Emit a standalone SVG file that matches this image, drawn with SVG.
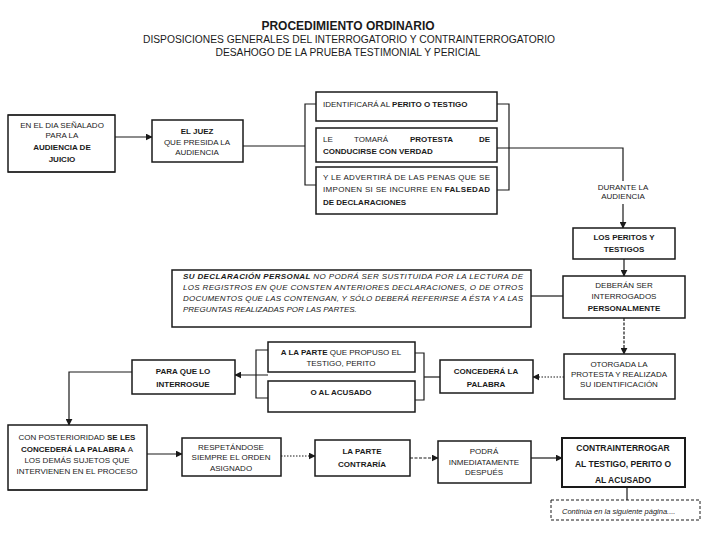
<svg xmlns="http://www.w3.org/2000/svg" width="720" height="540" viewBox="0 0 720 540">
<style>
text{font-family:"Liberation Sans",Arial,sans-serif;fill:#1a1a1a;font-size:8px}
.c{text-anchor:middle}
.b{font-weight:bold}
.i{font-style:italic}
.box{fill:#fff;stroke:#1a1a1a;stroke-width:1.5}
.thick{stroke-width:2}
.ln{fill:none;stroke:#1a1a1a;stroke-width:1.2}
.dash{stroke-dasharray:3 1.5}
.dot{stroke-dasharray:1.5 1.5}
</style>
<defs>
<marker id="ah" viewBox="0 0 10 10" refX="9" refY="5" markerWidth="7" markerHeight="7" orient="auto" markerUnits="userSpaceOnUse">
<path d="M0,0 L10,5 L0,10 z" fill="#1a1a1a"/>
</marker>
</defs>
<rect width="720" height="540" fill="#fff"/>

<g id="title">
<text x="348" y="30" class="c b" style="font-size:12px">PROCEDIMIENTO ORDINARIO</text>
<text x="349" y="43" class="c" style="font-size:10px" textLength="412" lengthAdjust="spacingAndGlyphs">DISPOSICIONES GENERALES DEL INTERROGATORIO Y CONTRAINTERROGATORIO</text>
<text x="348" y="56" class="c" style="font-size:10px" textLength="265" lengthAdjust="spacingAndGlyphs">DESAHOGO DE LA PRUEBA TESTIMONIAL Y PERICIAL</text>
</g>

<g id="connectors">
<line class="ln" x1="115" y1="137" x2="152" y2="137" marker-end="url(#ah)"/>
<polyline class="ln" points="243,146 305,146"/>
<polyline class="ln" points="316,104 305,104 305,185 316,185"/>
<polyline class="ln" points="497,104 509,104 509,190 497,190"/>
<polyline class="ln" points="497,148 623,148 623,181"/>
<line class="ln" x1="623" y1="204" x2="623" y2="228" marker-end="url(#ah)"/>
<line class="ln" x1="624" y1="259" x2="624" y2="276" marker-end="url(#ah)"/>
<line class="ln" x1="563" y1="296" x2="531" y2="296"/>
<line class="ln dash" x1="624" y1="318" x2="624" y2="354" marker-end="url(#ah)"/>
<line class="ln dot" x1="564" y1="377" x2="533" y2="377" marker-end="url(#ah)"/>
<polyline class="ln" points="440,377 424,377"/>
<polyline class="ln" points="415,353 424,353 424,400 415,400"/>
<polyline class="ln" points="268,350 256,350 256,398 268,398"/>
<line class="ln" x1="268" y1="375" x2="235" y2="375" marker-end="url(#ah)"/>
<polyline class="ln" points="132,372 69,372 69,425" marker-end="url(#ah)"/>
<line class="ln" x1="147" y1="454" x2="182" y2="454" marker-end="url(#ah)"/>
<line class="ln dot" x1="281" y1="456" x2="315" y2="456" marker-end="url(#ah)"/>
<line class="ln dash" x1="410" y1="458" x2="438" y2="458" marker-end="url(#ah)"/>
<line class="ln" x1="531" y1="458" x2="562" y2="458" marker-end="url(#ah)"/>
<line class="ln" x1="627" y1="487" x2="627" y2="500"/>
</g>

<g id="n-dia">
<rect class="box" x="8" y="115" width="107" height="57"/>
<line class="ln thick" x1="8" y1="115" x2="115" y2="115"/>
<line class="ln thick" x1="8" y1="172" x2="115" y2="172"/>
<text x="62" y="128" class="c">EN EL DIA SEÑALADO</text>
<text x="62" y="138" class="c">PARA LA</text>
<text x="62" y="150" class="c b">AUDIENCIA DE</text>
<text x="62" y="162" class="c b">JUICIO</text>
</g>

<g id="n-juez">
<rect class="box" x="152" y="120" width="91" height="42"/>
<text x="197" y="134" class="c b">EL JUEZ</text>
<text x="197" y="145" class="c">QUE PRESIDA LA</text>
<text x="197" y="155" class="c">AUDIENCIA</text>
</g>

<g id="n-identificara">
<rect class="box" x="316" y="92" width="181" height="29"/>
<text x="323" y="107">IDENTIFICARÁ AL <tspan class="b">PERITO O TESTIGO</tspan></text>
</g>

<g id="n-protesta">
<rect class="box" x="316" y="128" width="181" height="34"/>
<text x="323" y="142">LE</text>
<text x="354" y="142">TOMARÁ</text>
<text x="410" y="142" class="b">PROTESTA</text>
<text x="490" y="142" class="b" text-anchor="end">DE</text>
<text x="323" y="154" class="b">CONDUCIRSE CON VERDAD</text>
</g>

<g id="n-advertira">
<rect class="box" x="316" y="167" width="181" height="47"/>
<text x="323" y="180" textLength="167" lengthAdjust="spacing">Y LE ADVERTIRÁ DE LAS PENAS QUE SE</text>
<text x="323" y="192" textLength="167" lengthAdjust="spacing">IMPONEN SI SE INCURRE EN <tspan class="b">FALSEDAD</tspan></text>
<text x="323" y="205" class="b">DE DECLARACIONES</text>
</g>

<g id="n-durante">
<text x="623" y="190" class="c">DURANTE LA</text>
<text x="623" y="199" class="c">AUDIENCIA</text>
</g>

<g id="n-peritos">
<rect class="box" x="573" y="228" width="102" height="31"/>
<text x="624" y="240" class="c b">LOS PERITOS Y</text>
<text x="624" y="252" class="c b">TESTIGOS</text>
</g>

<g id="n-deberan">
<rect class="box" x="563" y="276" width="122" height="42"/>
<text x="624" y="288" class="c">DEBERÁN SER</text>
<text x="624" y="299" class="c">INTERROGADOS</text>
<text x="624" y="311" class="c b">PERSONALMENTE</text>
</g>

<g id="n-declaracion">
<rect class="box" x="172" y="270" width="359" height="57"/>
<text x="183" y="279" class="i" textLength="340" lengthAdjust="spacing"><tspan class="b">SU DECLARACIÓN PERSONAL</tspan> NO PODRÁ SER SUSTITUIDA POR LA LECTURA DE</text>
<text x="183" y="290" class="i" textLength="340" lengthAdjust="spacing">LOS REGISTROS EN QUE CONSTEN ANTERIORES DECLARACIONES, O DE OTROS</text>
<text x="183" y="301" class="i" textLength="340" lengthAdjust="spacing">DOCUMENTOS QUE LAS CONTENGAN, Y SÓLO DEBERÁ REFERIRSE A ÉSTA Y A LAS</text>
<text x="183" y="312" class="i">PREGUNTAS REALIZADAS POR LAS PARTES.</text>
</g>

<g id="n-otorgada">
<rect class="box" x="564" y="354" width="111" height="45"/>
<text x="619" y="367" class="c">OTORGADA LA</text>
<text x="619" y="377" class="c">PROTESTA Y REALIZADA</text>
<text x="619" y="387" class="c">SU IDENTIFICACIÓN</text>
</g>

<g id="n-concedera">
<rect class="box" x="440" y="360" width="93" height="33"/>
<text x="486" y="374" class="c b">CONCEDERÁ LA</text>
<text x="486" y="387" class="c b">PALABRA</text>
</g>

<g id="n-parte">
<rect class="box" x="268" y="342" width="147" height="30"/>
<text x="341" y="355" class="c"><tspan class="b">A LA PARTE</tspan> QUE PROPUSO EL</text>
<text x="341" y="366" class="c">TESTIGO, PERITO</text>
</g>

<g id="n-acusado">
<rect class="box" x="268" y="381" width="147" height="31"/>
<text x="341" y="395" class="c b">O AL ACUSADO</text>
</g>

<g id="n-interrogue">
<rect class="box" x="132" y="360" width="103" height="34"/>
<text x="183" y="374" class="c b">PARA QUE LO</text>
<text x="183" y="387" class="c b">INTERROGUE</text>
</g>

<g id="n-posterioridad">
<rect class="box" x="8" y="425" width="139" height="65"/>
<line class="ln thick" x1="8" y1="490" x2="147" y2="490"/>
<text x="77" y="440" class="c">CON POSTERIORIDAD <tspan class="b">SE LES</tspan></text>
<text x="77" y="452" class="c"><tspan class="b">CONCEDERÁ LA PALABRA</tspan> A</text>
<text x="77" y="463" class="c">LOS DEMÁS SUJETOS QUE</text>
<text x="77" y="474" class="c">INTERVIENEN EN EL PROCESO</text>
</g>

<g id="n-respetandose">
<rect class="box" x="182" y="438" width="99" height="38"/>
<text x="231" y="450" class="c">RESPETÁNDOSE</text>
<text x="231" y="460" class="c">SIEMPRE EL ORDEN</text>
<text x="231" y="471" class="c">ASIGNADO</text>
</g>

<g id="n-contraria">
<rect class="box" x="315" y="440" width="95" height="36"/>
<text x="362" y="454" class="c b">LA PARTE</text>
<text x="362" y="467" class="c b">CONTRARÍA</text>
</g>

<g id="n-podra">
<rect class="box" x="438" y="441" width="93" height="42"/>
<text x="484" y="454" class="c">PODRÁ</text>
<text x="484" y="465" class="c">INMEDIATAMENTE</text>
<text x="484" y="475" class="c">DESPUÉS</text>
</g>

<g id="n-contrainterrogar">
<rect class="box thick" x="562" y="438" width="123" height="49"/>
<text x="623" y="451" class="c b" style="font-size:8.5px">CONTRAINTERROGAR</text>
<text x="623" y="467" class="c b" style="font-size:8.5px">AL TESTIGO, PERITO O</text>
<text x="623" y="483" class="c b" style="font-size:8.5px">AL ACUSADO</text>
</g>

<g id="n-continua">
<rect x="551" y="500" width="149" height="20" fill="#fff" stroke="#1a1a1a" stroke-width="1" stroke-dasharray="3 2"/>
<text x="562" y="514" class="i" style="font-size:7.5px">Continúa en la siguiente página....</text>
</g>
</svg>
